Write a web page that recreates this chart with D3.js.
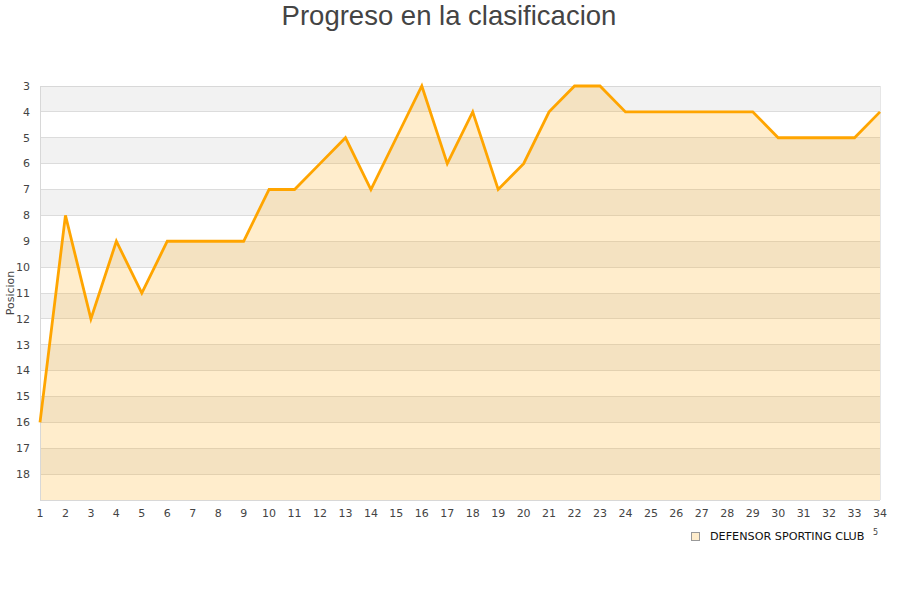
<!DOCTYPE html>
<html><head><meta charset="utf-8">
<script src="https://cdn.jsdelivr.net/npm/d3@7"></script>
<style>body{margin:0;background:#fff}svg{display:block}</style>
</head><body>
<svg id="c" width="900" height="600"></svg>
<script>
const jornadas = d3.range(1, 35);
const posiciones = [16,8,12,9,11,9,9,9,9,7,7,6,5,7,5,3,6,4,7,6,4,3,3,4,4,4,4,4,4,5,5,5,5,4];
const yTicks = d3.range(3, 19);
const seriesName = "DEFENSOR SPORTING CLUB";
const title = "Progreso en la clasificacion";
const yLabel = "Posicion";

const svg = d3.select("#c");
const L = 40, R = 880, T = 86, B = 500;
const x = d3.scaleLinear().domain([1, 34]).range([L, R]);
const y = d3.scaleLinear().domain([3, 19]).range([T, B]);

// bands
const bands = d3.range(3, 19);
svg.append("g").selectAll("rect").data(bands).join("rect")
  .attr("x", L).attr("width", R - L)
  .attr("y", d => y(d)).attr("height", d => y(d + 1) - y(d))
  .attr("fill", d => (d % 2 === 1) ? "#f2f2f2" : "#ffffff");

// grid lines
svg.append("g").selectAll("line").data(d3.range(4, 19)).join("line")
  .attr("x1", L).attr("x2", R).attr("y1", d => y(d)).attr("y2", d => y(d))
  .attr("stroke", "#dcdcdc").attr("stroke-width", 1).attr("shape-rendering", "crispEdges");
svg.append("line").attr("x1", L).attr("x2", R).attr("y1", y(3)).attr("y2", y(3))
  .attr("stroke", "#d8d8d8").attr("shape-rendering", "crispEdges");

// area
const pts = jornadas.map((j, i) => [j, posiciones[i]]);
svg.append("path").datum(pts)
  .attr("d", d3.area().x(d => x(d[0])).y0(B).y1(d => y(d[1])))
  .attr("fill", "rgba(255,165,0,0.2)");

// axes borders
svg.append("line").attr("x1", L + 0.5).attr("x2", L + 0.5).attr("y1", T).attr("y2", B)
  .attr("stroke", "#d8d8d8");
svg.append("line").attr("x1", L).attr("x2", R).attr("y1", B + 0.5).attr("y2", B + 0.5)
  .attr("stroke", "#d8d8d8");
svg.append("line").attr("x1", R + 0.5).attr("x2", R + 0.5).attr("y1", T).attr("y2", B)
  .attr("stroke", "#e6e6e6");

// line
svg.append("path").datum(pts)
  .attr("d", d3.line().x(d => x(d[0])).y(d => y(d[1])))
  .attr("fill", "none").attr("stroke", "#ffa500").attr("stroke-width", 2.8)
  .attr("stroke-linejoin", "miter");

// y ticks
svg.append("g").selectAll("text").data(yTicks).join("text")
  .attr("x", 30).attr("y", d => y(d)).attr("dy", "0.35em")
  .attr("text-anchor", "end").attr("font-family", "DejaVu Sans").attr("font-size", 11)
  .attr("fill", "#444").text(d => d);

// x ticks
svg.append("g").selectAll("text").data(jornadas).join("text")
  .attr("x", d => x(d)).attr("y", 517)
  .attr("text-anchor", "middle").attr("font-family", "DejaVu Sans").attr("font-size", 11)
  .attr("fill", "#444").text(d => d);

// y label
svg.append("text").attr("transform", "translate(14,293) rotate(-90)")
  .attr("text-anchor", "middle").attr("font-family", "DejaVu Sans").attr("font-size", 11)
  .attr("fill", "#444").text(yLabel);

// title
svg.append("text").attr("x", 449).attr("y", 25).attr("text-anchor", "middle")
  .attr("font-family", "Liberation Sans, Arial").attr("font-size", 27.5)
  .attr("fill", "#444").text(title);

// legend
svg.append("rect").attr("x", 691.5).attr("y", 532.5).attr("width", 8).attr("height", 8)
  .attr("fill", "#ffedcc").attr("stroke", "#999");
svg.append("text").attr("x", 710).attr("y", 540).attr("font-family", "DejaVu Sans")
  .attr("font-size", 11.2).attr("fill", "#111").text(seriesName);
svg.append("text").attr("x", 873).attr("y", 535).attr("font-family", "DejaVu Sans")
  .attr("font-size", 8).attr("fill", "#444").text("5");
</script>
</body></html>
